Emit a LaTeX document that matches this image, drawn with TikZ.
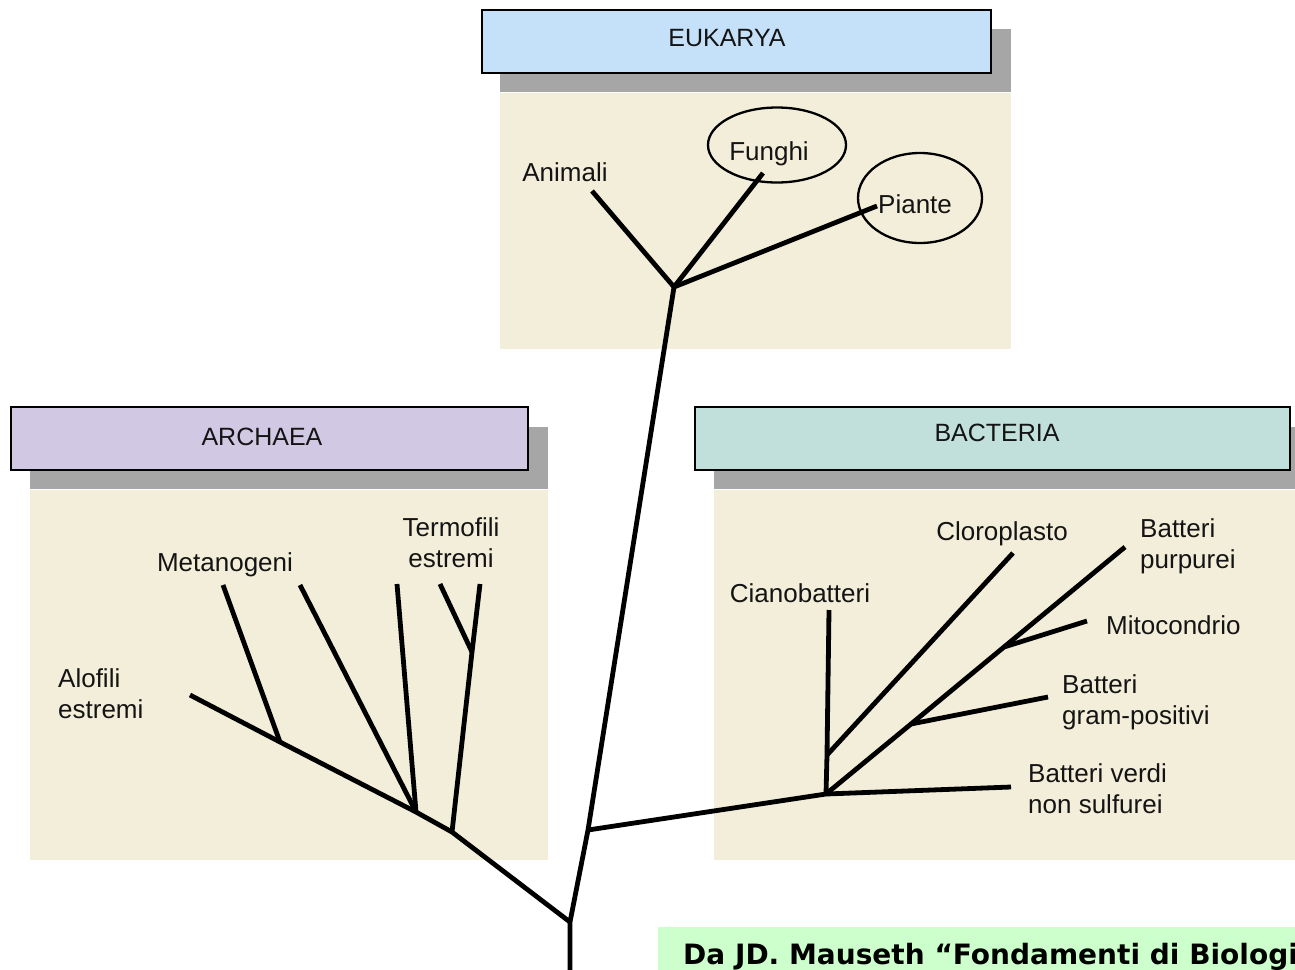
\documentclass[tikz,border=0pt]{standalone}
\usepackage{fontspec}
\setmainfont{Liberation Sans}
\newfontfamily\notefont{DejaVu Sans}
\usetikzlibrary{shapes.geometric}
\definecolor{eukcol}{RGB}{197,225,250}
\definecolor{arccol}{RGB}{209,201,227}
\definecolor{baccol}{RGB}{193,224,219}
\definecolor{panelcol}{RGB}{243,238,217}
\definecolor{shadowcol}{RGB}{166,166,166}
\definecolor{notecol}{RGB}{204,255,204}
\definecolor{inkcol}{RGB}{20,20,20}
\begin{document}
\begin{tikzpicture}[x=1pt,y=-1pt,
  lbl/.style={inner sep=0pt, text=inkcol, font=\fontsize{26}{31}\selectfont},
  hdr/.style={draw=black, line width=1.8pt, minimum height=63pt, inner sep=0pt},
  hdrtext/.style={inner sep=0pt, text=inkcol, font=\fontsize{25}{30}\selectfont},
  shadowbox/.style={fill=shadowcol},
  panelbox/.style={fill=panelcol},
  br/.style={line width=4.8pt, line join=round, draw=black},
  ring/.style={draw=black, line width=2.3pt, ellipse, inner sep=0pt}
]
\clip (0,0) rectangle (1295,969);
\fill[white] (0,0) rectangle (1295,969);

% ---- panels and shadows ----
\fill[shadowbox] (500,29) rectangle (1011,92);
\fill[panelbox] (500,93) rectangle (1011,349);
\fill[shadowbox] (30,427) rectangle (548,489);
\fill[panelbox] (30,490) rectangle (548,860);
\fill[shadowbox] (714,427) rectangle (1300,489);
\fill[panelbox] (714,490) rectangle (1300,860);

% ---- headers ----
\node[hdr, fill=eukcol, minimum width=509pt] (euk) at (736.5,41.5) {};
\node[hdrtext] (euktext) at (727,38) {EUKARYA};
\node[hdr, fill=arccol, minimum width=517pt] (arc) at (269.5,438.5) {};
\node[hdrtext] (arctext) at (262,437) {ARCHAEA};
\node[hdr, fill=baccol, minimum width=595pt] (bac) at (992.5,438.5) {};
\node[hdrtext] (bactext) at (997,433) {BACTERIA};

% ---- tree coordinates ----
\coordinate (root) at (570,975);
\coordinate (A1) at (570,922);
\coordinate (T1) at (588,830);
\coordinate (E0) at (674,287);
% eukarya
\coordinate (ani) at (592,191);
\coordinate (fun) at (763,173);
\coordinate (pia) at (877,206);
% archaea
\coordinate (a1) at (452,832);
\coordinate (a2) at (416,812);
\coordinate (a3) at (280,742);
\coordinate (aend) at (190,695);
\coordinate (m1end) at (223,585);
\coordinate (m2end) at (300,585);
\coordinate (m3end) at (397,584);
\coordinate (t0) at (472,652);
\coordinate (t1end) at (480,584);
\coordinate (t2end) at (440,584);
% bacteria
\coordinate (B0) at (826,794);
\coordinate (c0) at (827,755);
\coordinate (cend) at (829,610);
\coordinate (clend) at (1013,553);
\coordinate (g0) at (911,724);
\coordinate (mi0) at (1004,647);
\coordinate (puend) at (1125,547);
\coordinate (gend) at (1048,697);
\coordinate (miend) at (1087,621);
\coordinate (vend) at (1011,787);

% ---- tree ----
\draw[br] (root) -- (A1) -- (T1) -- (E0);
\draw[br] (E0) -- (ani);
\draw[br] (E0) -- (fun);
\draw[br] (E0) -- (pia);
\draw[br] (A1) -- (a1) -- (a2) -- (a3) -- (aend);
\draw[br] (a3) -- (m1end);
\draw[br] (a2) -- (m2end);
\draw[br] (a2) -- (m3end);
\draw[br] (a1) -- (t0) -- (t1end);
\draw[br] (t0) -- (t2end);
\draw[br] (T1) -- (B0);
\draw[br] (B0) -- (c0) -- (cend);
\draw[br] (c0) -- (clend);
\draw[br] (B0) -- (g0) -- (mi0) -- (puend);
\draw[br] (g0) -- (gend);
\draw[br] (mi0) -- (miend);
\draw[br] (B0) -- (vend);

% ---- ellipses ----
\node[ring, minimum width=138pt, minimum height=75pt] (funring) at (777,145) {};
\node[ring, minimum width=124pt, minimum height=90pt] (piaring) at (920,198) {};

% ---- labels ----
\node[lbl] (lani) at (565,172) {Animali};
\node[lbl] (lfun) at (769,154) {Funghi};
\node[lbl, anchor=west] (lpia) at (878,204) {Piante};
\node[lbl] (lmet) at (225,565) {Metanogeni};
\node[lbl, align=center] (lterm) at (451,543) {Termofili\\estremi};
\node[lbl, align=left, anchor=west] (lalo) at (58,694) {Alofili\\estremi};
\node[lbl] (lcia) at (800,593) {Cianobatteri};
\node[lbl] (lclo) at (1002,534) {Cloroplasto};
\node[lbl, align=left, anchor=west] (lpur) at (1140,546) {Batteri\\purpurei};
\node[lbl, anchor=west] (lmit) at (1106,625) {Mitocondrio};
\node[lbl, align=left, anchor=west] (lgram) at (1062,702) {Batteri\\gram-positivi};
\node[lbl, align=left, anchor=west] (lverd) at (1028,789) {Batteri verdi\\non sulfurei};

% ---- note ----
\fill[notecol] (658,927) rectangle (1300,975);
\node[anchor=base west, inner sep=0pt, font=\notefont\bfseries\fontsize{28}{30}\selectfont] (note) at (683,964) {Da JD. Mauseth “Fondamenti di Biologia};
\end{tikzpicture}
\end{document}
